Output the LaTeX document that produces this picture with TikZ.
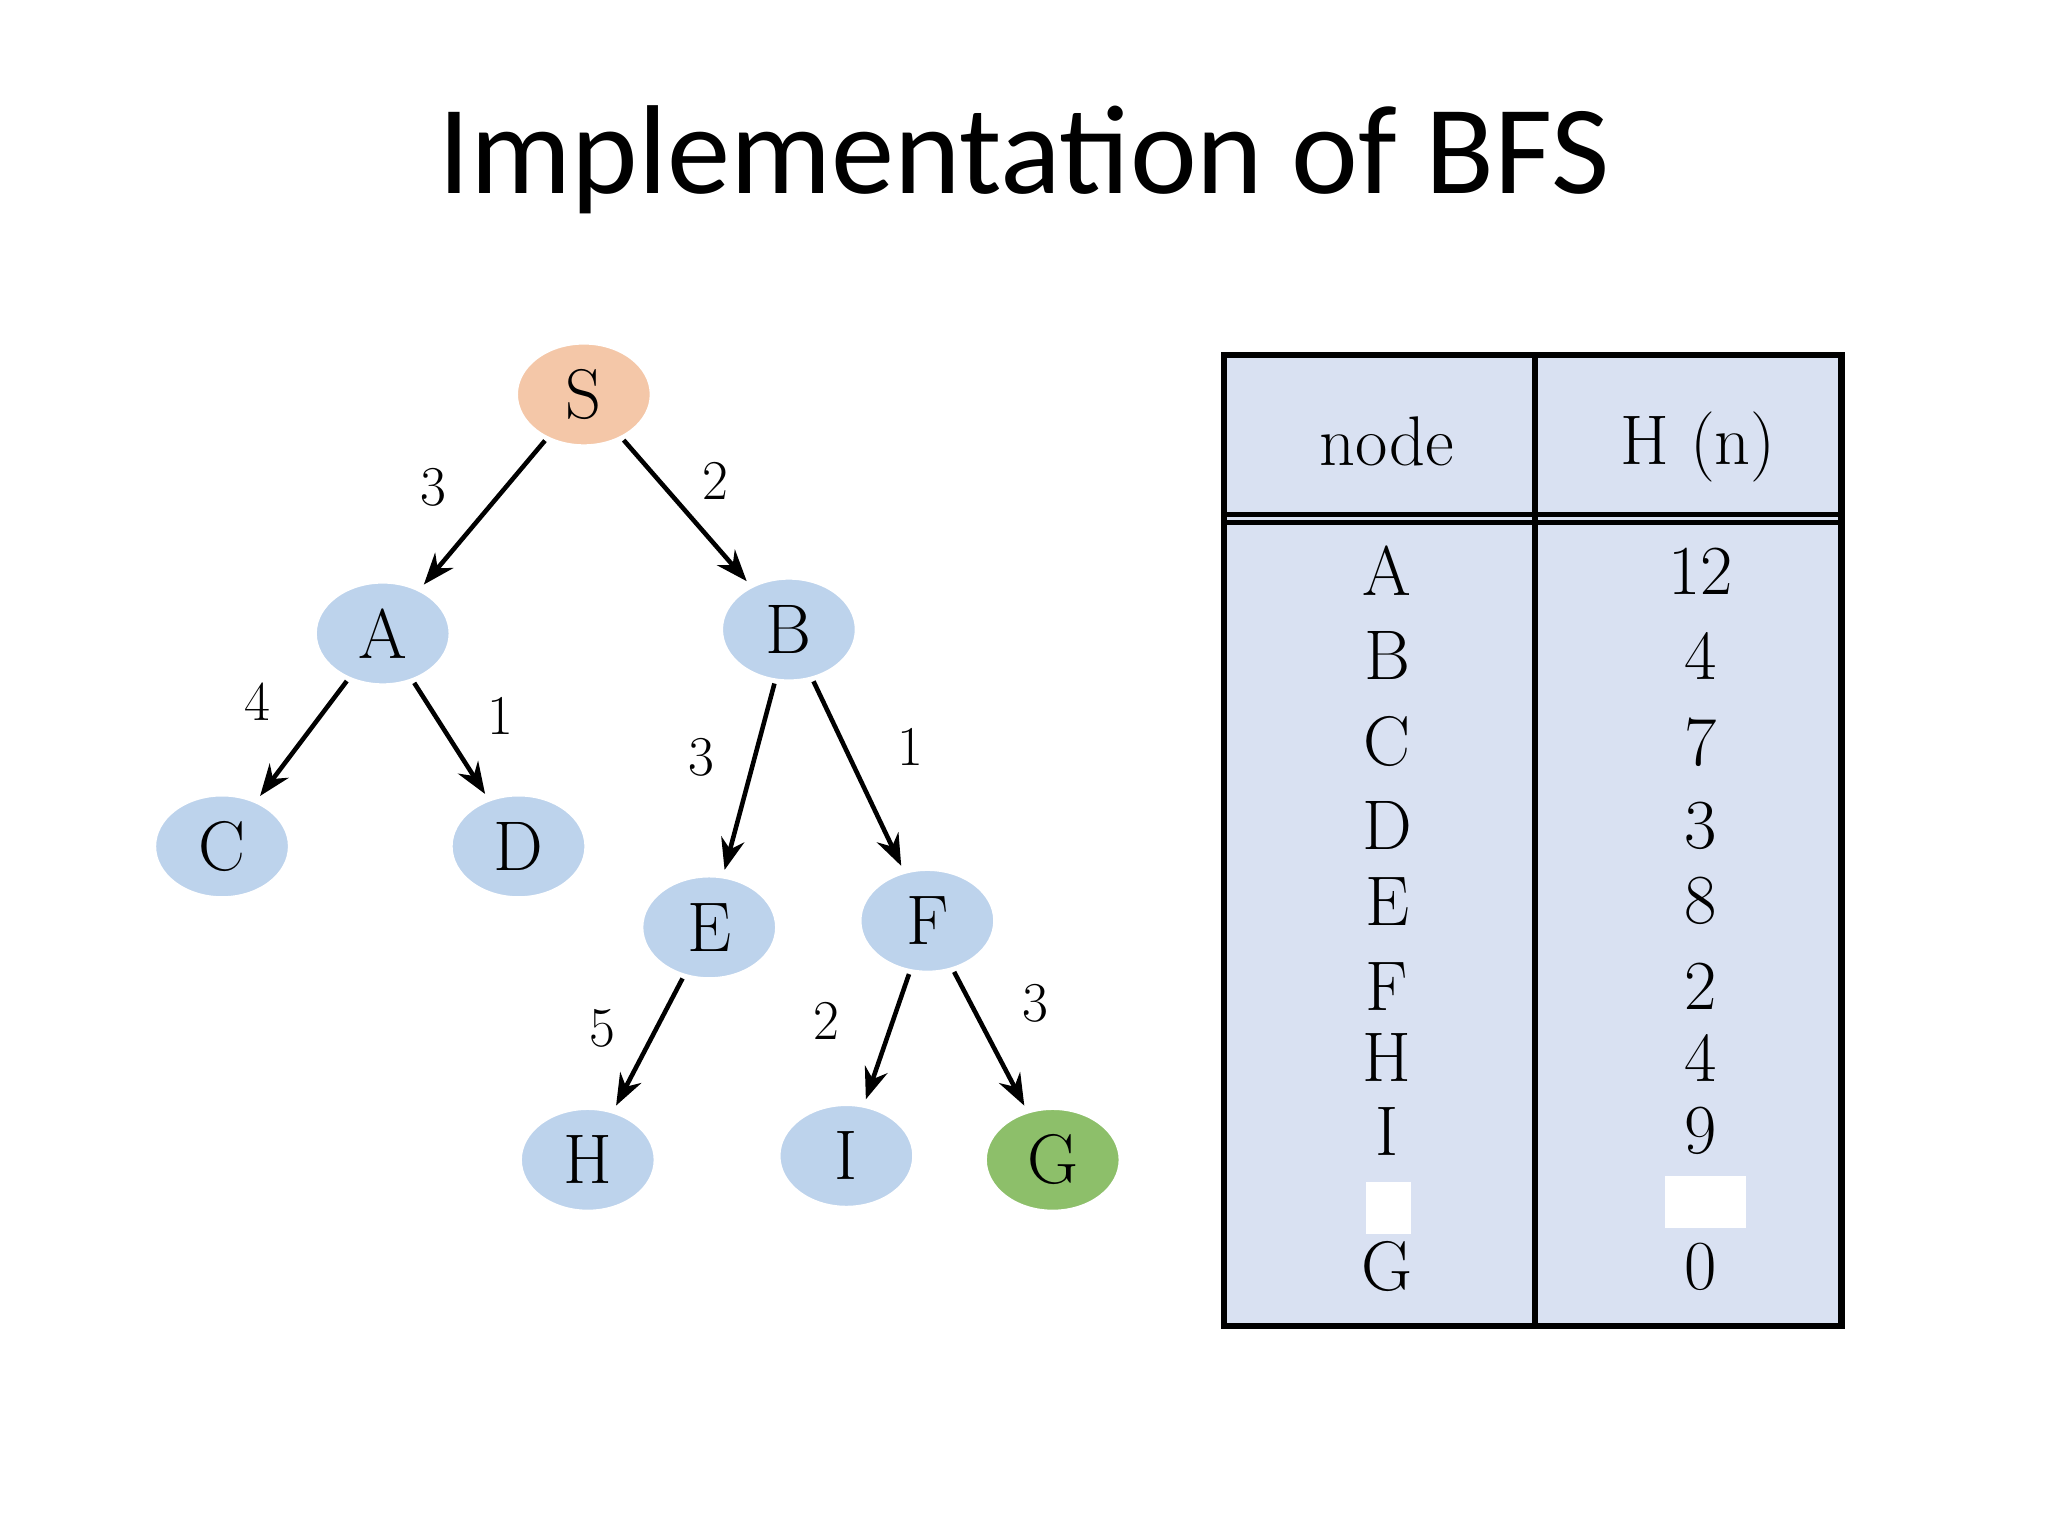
\documentclass[tikz,border=0pt]{standalone}
\usepackage{fontspec}
\newfontfamily\titlefont{Carlito}
\usetikzlibrary{shapes.geometric,arrows.meta}
\definecolor{nblue}{RGB}{189,211,236}
\definecolor{norange}{RGB}{244,199,168}
\definecolor{ngreen}{RGB}{141,191,106}
\definecolor{tblue}{RGB}{217,225,242}
\begin{document}
\begin{tikzpicture}[x=0.01306cm,y=-0.01306cm,
  gnode/.style={ellipse,minimum width=1.37cm,minimum height=1.05cm,inner sep=0pt,fill=nblue,draw=white,line width=1.5pt,font=\fontsize{20}{24}\selectfont},
  edge/.style={-{Stealth[length=9pt]},line width=1.3pt,shorten >=1pt},
  elab/.style={font=\fontsize{16}{20}\selectfont},
  tcell/.style={font=\fontsize{20}{24}\selectfont}]
\useasboundingbox (0,0) rectangle (1568,1176);
\node[font=\titlefont\fontsize{36}{42}\selectfont] (title) at (784,122) {Implementation of BFS};
\node[gnode,fill=norange] (S) at (447,302) {S};
\node[gnode] (A) at (293,485) {A};
\node[gnode] (B) at (604,482) {B};
\node[gnode] (C) at (170,648) {C};
\node[gnode] (D) at (397,648) {D};
\node[gnode] (E) at (543,710) {E};
\node[gnode] (F) at (710,705) {F};
\node[gnode] (H) at (450,888) {H};
\node[gnode] (I) at (648,885) {I};
\node[gnode,fill=ngreen] (G) at (806,888) {G};
\draw[edge] (S) -- (A);
\draw[edge] (S) -- (B);
\draw[edge] (A) -- (C);
\draw[edge] (A) -- (D);
\draw[edge] (B) -- (E);
\draw[edge] (B) -- (F);
\draw[edge] (E) -- (H);
\draw[edge] (F) -- (I);
\draw[edge] (F) -- (G);
\node[elab] (l1) at (332,373) {3};
\node[elab] (l2) at (548,368) {2};
\node[elab] (l3) at (197,537) {4};
\node[elab] (l4) at (383,548) {1};
\node[elab] (l5) at (537,580) {3};
\node[elab] (l6) at (697,572) {1};
\node[elab] (l7) at (461,787) {5};
\node[elab] (l8) at (633,782) {2};
\node[elab] (l9) at (793,768) {3};
% table
\fill[tblue] (937,272) rectangle (1410,1015);
\draw[line width=1.8pt] (937,272) rectangle (1410,1015);
\draw[line width=1.8pt] (1175,272) -- (1175,1015);
\draw[line width=1.2pt] (937,394) -- (1410,394);
\draw[line width=1.2pt] (937,400) -- (1410,400);
\node[tcell] (hn) at (1062,338) {node};
\node[tcell] (hh) at (1300,342) {H (n)};
\foreach \n/\v/\y [count=\i] in {A/12/437,B/4/502,C/7/568,D/3/632,E/8/690,F/2/755,H/4/810,I/9/866,G/0/970}{
  \node[tcell] (n\i) at (1062,\y) {\n};
  \node[tcell] (v\i) at (1302,\y) {\v};
}
\fill[white] (1046,905) rectangle (1080,945);
\fill[white] (1275,900) rectangle (1337,940);
\end{tikzpicture}
\end{document}
